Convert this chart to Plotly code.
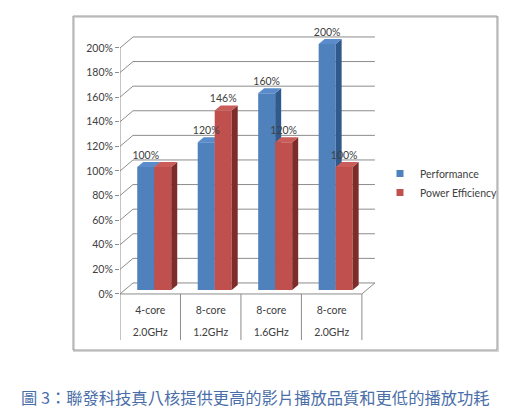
import plotly.graph_objects as go

# data
cores = ['4-core', '8-core', '8-core', '8-core']
clocks = ['2.0GHz', '1.2GHz', '1.6GHz', '2.0GHz']
performance = [100, 120, 160, 200]
power_efficiency = [100, 146, 120, 100]
ytick_vals = [0, 20, 40, 60, 80, 100, 120, 140, 160, 180, 200]

# the page body has an 8px margin, so shift the whole layout up/left by that
OFF = 8
W, H = 528, 413
PL, PR, PT, PB = 120 - OFF, 377 - OFF, 30 - OFF, 345 - OFF   # plot area in page px

# pixel scale of the plot area (used to fake the excel 3d look)
PX_X = (PR - PL) / 4.25     # px per category unit
PX_Y = (PB - PT) / 256.1    # px per percent

wall_dx, wall_dy = 13 / PX_X, 11 / PX_Y     # depth of back wall
bar_dx, bar_dy = 4 / PX_X, 4 / PX_Y         # bar front face offset from the floor edge
side_dx, side_dy = 6 / PX_X, 5 / PX_Y       # bar depth
bar_w = 17 / PX_X
label_dy = 11 / PX_Y
font = 'Lato, Liberation Sans, sans-serif'
text_col = '#404040'


def px(x, y):
    # reference pixel position -> paper coords
    return (x - OFF - PL) / (PR - PL), (PB - (y - OFF)) / (PB - PT)


fig = go.Figure()


def bar_faces(values, shift):
    front_x, front_y, side_x, side_y, top_x, top_y = [], [], [], [], [], []
    for i, v in enumerate(values):
        xl = i + bar_dx + shift - bar_w / 2
        xr = xl + bar_w
        b0 = bar_dy
        t0 = v + bar_dy
        front_x += [xl, xr, xr, xl, xl, None]
        front_y += [b0, b0, t0, t0, b0, None]
        side_x += [xr, xr + side_dx, xr + side_dx, xr, xr, None]
        side_y += [b0, b0 + side_dy, t0 + side_dy, t0, b0, None]
        top_x += [xl, xr, xr + side_dx, xl + side_dx, xl, None]
        top_y += [t0, t0, t0 + side_dy, t0 + side_dy, t0, None]
    return (front_x, front_y), (side_x, side_y), (top_x, top_y)


# back wall / side wall gridlines
grid_x, grid_y = [], []
for v in ytick_vals:
    grid_x += [-0.5, -0.5 + wall_dx, 3.5 + wall_dx, None]
    grid_y += [v, v + wall_dy, v + wall_dy, None]
# floor front edge and right edge
grid_x += [-0.5, 3.5, 3.5 + wall_dx, None]
grid_y += [0, 0, wall_dy, None]
# front axis line
grid_x += [-0.5, -0.5, None]
grid_y += [0, 200, None]
# category table separators
for i in range(5):
    grid_x += [i - 0.5, i - 0.5, None]
    grid_y += [0, -37.5, None]
fig.add_trace(go.Scatter(x=grid_x, y=grid_y, mode='lines',
                         line=dict(color='#8c8c8c', width=1),
                         hoverinfo='skip', showlegend=False))

series = [
    ('Performance', performance, -bar_w / 2, '#4F81BD', '#30598C', '#5A8CCB'),
    ('Power Efficiency', power_efficiency, bar_w / 2, '#C0504D', '#7E2C2A', '#CA5C59'),
]

for name, vals, shift, c_front, c_side, c_top in series:
    front, side, top = bar_faces(vals, shift)
    for (fx, fy), col in [(front, c_front), (side, c_side), (top, c_top)]:
        fig.add_trace(go.Scatter(x=fx, y=fy, mode='lines', fill='toself',
                                 fillcolor=col, line=dict(width=0),
                                 hoverinfo='skip', showlegend=False))

# data labels (the red label hides behind the blue one when both are equal)
for k, (name, vals, shift, c_front, c_side, c_top) in enumerate(series):
    labels = []
    for i, v in enumerate(vals):
        if k == 1 and v == performance[i]:
            labels.append('')
        else:
            labels.append(f'{v}%')
    fig.add_trace(go.Scatter(
        x=[i + bar_dx + shift for i in range(len(vals))],
        y=[v + bar_dy + label_dy for v in vals],
        mode='text', text=labels,
        textposition='middle center', cliponaxis=False,
        textfont=dict(family=font, size=10.5, color=text_col),
        hoverinfo='skip', showlegend=False))

# legend entries
for name, vals, shift, c_front, c_side, c_top in series:
    fig.add_trace(go.Scatter(x=[None], y=[None], mode='markers', name=name,
                             marker=dict(symbol='square', size=7, color=c_front)))

# category table text
fig.add_trace(go.Scatter(x=list(range(4)), y=[-14] * 4, mode='text', text=cores,
                         textfont=dict(family=font, size=10.5, color=text_col),
                         hoverinfo='skip', showlegend=False))
fig.add_trace(go.Scatter(x=list(range(4)), y=[-32] * 4, mode='text', text=clocks,
                         textfont=dict(family=font, size=10.5, color=text_col),
                         hoverinfo='skip', showlegend=False))

lx, ly = px(380, 183)
fig.update_layout(
    width=W, height=H,
    margin=dict(l=PL, r=W - PR, t=PT, b=H - PB),
    paper_bgcolor='white', plot_bgcolor='white',
    xaxis=dict(range=[-0.5, 3.75], visible=False, fixedrange=True),
    yaxis=dict(range=[-41.5, 214.6], showgrid=False, zeroline=False,
               tickvals=ytick_vals, ticktext=[f'{v}%' for v in ytick_vals],
               ticks='outside', ticklen=4, tickcolor='#8c8c8c',
               tickfont=dict(family=font, size=10.5, color=text_col)),
    legend=dict(x=lx, y=ly, xanchor='left', yanchor='middle',
                font=dict(family=font, size=10.5, color=text_col),
                itemwidth=30, tracegroupgap=4, bgcolor='rgba(0,0,0,0)'),
    showlegend=True,
)

# outer chart border with light shadow
x0, y0 = px(74, 351)
x1, y1 = px(498, 17)
fig.add_shape(type='rect', xref='paper', yref='paper', x0=x0, x1=x1, y0=y0, y1=y1,
              line=dict(color='#d6d6d6', width=2), layer='below')
x0, y0 = px(73, 350)
x1, y1 = px(497, 16)
fig.add_shape(type='rect', xref='paper', yref='paper', x0=x0, x1=x1, y0=y0, y1=y1,
              line=dict(color='#9a9a9a', width=1), layer='below')

cx, cy = px(19, 397)
fig.add_annotation(text='圖 3：聯發科技真八核提供更高的影片播放品質和更低的播放功耗',
                   xref='paper', yref='paper', x=cx, y=cy,
                   xanchor='left', yanchor='middle', showarrow=False,
                   font=dict(family='Noto Sans CJK TC', size=16.3, color='#4A6EA8'))

fig.write_html('out.html')
